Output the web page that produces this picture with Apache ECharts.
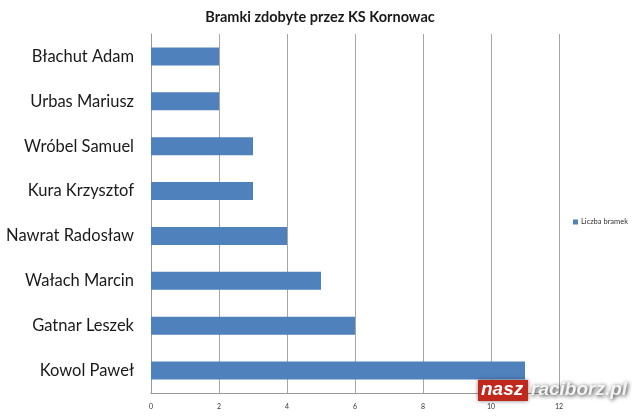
<!DOCTYPE html>
<html><head><meta charset="utf-8">
<script src="https://cdn.jsdelivr.net/npm/echarts@6/dist/echarts.min.js"></script>
<style>html,body{margin:0;padding:0;background:#fff}#c{width:640px;height:417px}</style>
</head><body><div id="c"></div>
<script>
const categories = ['Kowol Paweł','Gatnar Leszek','Wałach Marcin','Nawrat Radosław','Kura Krzysztof','Wróbel Samuel','Urbas Mariusz','Błachut Adam'];
const goals = [11, 6, 5, 4, 3, 3, 2, 2];
const seriesName = 'Liczba bramek';
const xTicks = [0, 2, 4, 6, 8, 10, 12];

const chart = echarts.init(document.getElementById('c'));
chart.setOption({
  animation: false,
  title: {text: 'Bramki zdobyte przez KS Kornowac', left: 'center', top: 5,
    textStyle: {fontFamily: 'Lato', fontSize: 14.5, fontWeight: 'bold', color: '#1a1a1a'}},
  legend: {data: [seriesName], orient: 'vertical', left: 573, top: 218, padding: 0, itemWidth: 5, itemHeight: 5, itemGap: 4,
    icon: 'rect', textStyle: {fontFamily: 'Lato', fontSize: 7.5, color: '#333', padding: [0,0,0,-2]}},
  grid: {left: 151, right: 81, top: 34, bottom: 24, containLabel: false},
  xAxis: {type: 'value', min: xTicks[0], max: xTicks[xTicks.length-1], interval: 2,
    axisLine: {show: true, lineStyle: {color: '#999', width: 1}},
    axisTick: {show: false},
    splitLine: {show: true, lineStyle: {color: '#a6a6a6', width: 1}},
    axisLabel: {fontFamily: 'Lato', fontSize: 7, color: '#333', margin: 10}},
  yAxis: {type: 'category', data: categories,
    axisLine: {show: true, lineStyle: {color: '#999', width: 1}},
    axisTick: {show: false},
    axisLabel: {fontFamily: 'Lato', fontSize: 16.5, color: '#1a1a1a', margin: 17}},
  series: [{name: seriesName, type: 'bar', data: goals, barCategoryGap: '60%',
    itemStyle: {color: '#4F81BD'}}],
  graphic: [
    {type: 'rect', shape: {x: 478, y: 380, width: 50, height: 21}, style: {fill: '#c0281e', shadowBlur: 4, shadowColor: 'rgba(0,0,0,0.5)'}, z: 100},
    {type: 'text', left: 481, top: 380, style: {text: 'nasz', fill: '#fff', font: 'italic bold 19px "Liberation Sans"'}, z: 101},
    {type: 'text', left: 531, top: 380, style: {text: 'raciborz.pl', fill: '#f4f4f4', font: 'italic bold 19px "Liberation Sans"', textShadowBlur: 4, textShadowColor: 'rgba(0,0,0,0.9)', textShadowOffsetX: 1, textShadowOffsetY: 1}, z: 101}
  ]
});
</script></body></html>
